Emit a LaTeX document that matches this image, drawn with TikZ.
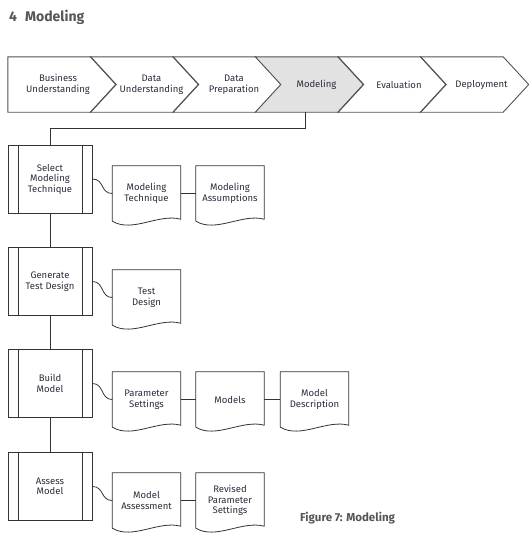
\documentclass[tikz,border=0pt]{standalone}
\usepackage{fontspec}
\setmainfont{Fira Sans}
\usetikzlibrary{backgrounds}
\definecolor{txt}{HTML}{2C2C3C}
\definecolor{ln}{HTML}{333333}
\definecolor{hl}{HTML}{E2E2E2}
\definecolor{ttl}{HTML}{555555}
\begin{document}
\begin{tikzpicture}[x=1pt,y=-1pt,
  lab/.style={font=\fontsize{9.5}{10.5}\selectfont, text=txt, align=center},
  chevline/.style={draw=ln!85, line width=0.9pt, line join=miter},
  chevbase/.style={lab, minimum width=82.5, minimum height=55, inner sep=0pt},
  chev/.style={chevbase, append after command={\pgfextra{\begin{pgfonlayer}{background}
      \draw[chevline, #1] ([xshift=-19.75pt]\tikzlastnode.north west) -- ([xshift=-19.75pt]\tikzlastnode.north east)
        -- ([xshift=5.75pt]\tikzlastnode.east) -- ([xshift=-19.75pt]\tikzlastnode.south east)
        -- ([xshift=-19.75pt]\tikzlastnode.south west) -- ([xshift=5.75pt]\tikzlastnode.west) -- cycle;
      \end{pgfonlayer}}}},
  chev/.default={},
  chevfirst/.style={chevbase, append after command={\pgfextra{\begin{pgfonlayer}{background}
      \draw[chevline] ([xshift=-8.75pt]\tikzlastnode.north west) -- ([xshift=-8.75pt]\tikzlastnode.north east)
        -- ([xshift=16.75pt]\tikzlastnode.east) -- ([xshift=-8.75pt]\tikzlastnode.south east)
        -- ([xshift=-8.75pt]\tikzlastnode.south west) -- cycle;
      \end{pgfonlayer}}}},
  conn/.style={draw=ln, line width=0.8pt},
  proc/.style={lab, draw=ln, line width=0.8pt, minimum width=84, minimum height=68, inner sep=1pt,
    append after command={\pgfextra{
      \draw[conn] ([xshift=10.5pt]\tikzlastnode.north west) -- ([xshift=10.5pt]\tikzlastnode.south west);
      \draw[conn] ([xshift=-10.5pt]\tikzlastnode.north east) -- ([xshift=-10.5pt]\tikzlastnode.south east);}}},
  doc/.style={lab, minimum width=68, minimum height=55, inner sep=1pt,
    append after command={\pgfextra{
      \draw[conn] (\tikzlastnode.south west) -- (\tikzlastnode.north west) -- (\tikzlastnode.north east)
        -- ([yshift=2pt]\tikzlastnode.south east) .. controls +(-22,-6) and +(20,12) .. (\tikzlastnode.south west);}}}
]
\useasboundingbox (0,0) rectangle (528,533);

% title and caption
\node[anchor=west, font=\bfseries\fontsize{14}{16}\selectfont, text=ttl, inner sep=0pt] (title) at (9,17) {4\hspace{8pt}Modeling};
\node[anchor=west, font=\bfseries\fontsize{11.5}{13}\selectfont, text=ttl, inner sep=0pt] (caption) at (300,518) {Figure 7: Modeling};

% phase chevrons
\node[chevfirst] (bu) at (58,84.5) {Business\\Understanding};
\node[chev] (du) at (151.5,84.5) {Data\\Understanding};
\node[chev] (dp) at (234,84.5) {Data\\Preparation};
\node[chev={fill=hl}] (mod) at (316.5,84.5) {Modeling};
\node[chev] (ev) at (399,84.5) {Evaluation};
\node[chev] (de) at (481.5,84.5) {Deployment};

% tasks
\node[proc] (sel) at (50,179) {Select\\Modeling\\Technique};
\node[proc] (gen) at (50,281.5) {Generate\\Test Design};
\node[proc] (bld) at (50,383.5) {Build\\Model};
\node[proc] (ass) at (50,486.5) {Assess\\Model};

% outputs
\node[doc] (mt) at (146.5,193.5) {Modeling\\Technique};
\node[doc] (ma) at (230,193.5) {Modeling\\Assumptions};
\node[doc] (td) at (146.5,297.5) {Test\\Design};
\node[doc] (ps) at (146.5,399.5) {Parameter\\Settings};
\node[doc] (mo) at (230,399.5) {Models};
\node[doc] (md) at (314.5,399.5) {Model\\Description};
\node[doc] (mas) at (146.5,500.5) {Model\\Assessment};
\node[doc] (rps) at (230,500.5) {Revised\\Parameter\\Settings};

% connectors
\draw[conn] ([xshift=-11.5pt]mod.south) -- ++(0,16) -| (sel.north);
\draw[conn] (sel.south) -- (gen.north);
\draw[conn] (gen.south) -- (bld.north);
\draw[conn] (bld.south) -- (ass.north);

\draw[conn] (sel.east) .. controls +(12,0) and +(-12,0) .. (mt.west);
\draw[conn] (gen.east) .. controls +(12,0) and +(-12,0) .. (td.west);
\draw[conn] (bld.east) .. controls +(12,0) and +(-12,0) .. (ps.west);
\draw[conn] (ass.east) .. controls +(12,0) and +(-12,0) .. (mas.west);

\draw[conn] (mt.east) -- (ma.west);
\draw[conn] (ps.east) -- (mo.west);
\draw[conn] (mo.east) -- (md.west);
\draw[conn] (mas.east) -- (rps.west);
\end{tikzpicture}
\end{document}
